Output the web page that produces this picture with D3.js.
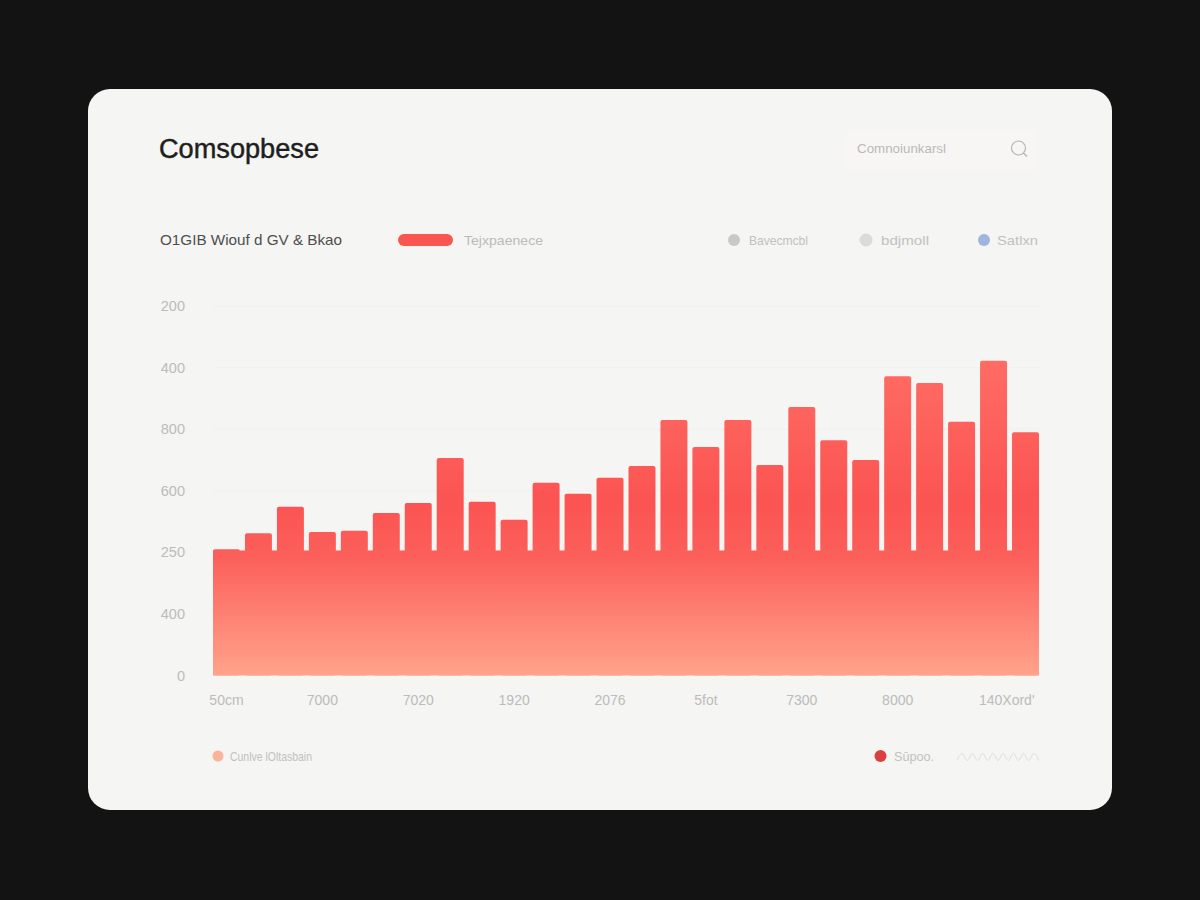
<!DOCTYPE html>
<html><head><meta charset="utf-8">
<script src="https://cdn.jsdelivr.net/npm/d3@7/dist/d3.min.js"></script>
<style>
html,body{margin:0;padding:0;background:#131313;overflow:hidden}
svg{display:block}
text{font-family:"Liberation Sans",Arial,sans-serif}
</style></head><body>
<svg id="c" width="1200" height="900"></svg>
<script>
const categories = ["b01","b02","b03","b04","b05","b06","b07","b08","b09","b10","b11","b12","b13","b14","b15","b16","b17","b18","b19","b20","b21","b22","b23","b24","b25","b26"];
const barValues = [205,231,274,233,235,264,280,353,282,253,313,295,321,340,415,371,415,342,436,382,350,486,475,412,511,395];
const baseValue = 203;
const yTickValues = [0,100,200,300,400,500,600];
const yTickLabels = ["0","400","250","600","800","400","200"];
const gridValues = [300,400,500,600];
const xTickCategories = ["b01","b04","b07","b10","b13","b16","b19","b22","b25"];
const xTickLabels = ["50cm","7000","7020","1920","2076","5fot","7300","8000","140Xord'"];
const wave = [0,1,0,1,0,1,0,1,0,1,0,1,0,1,0,1,0];

const svg = d3.select("#c");
const defs = svg.append("defs");
const grad = defs.append("linearGradient").attr("id","barGrad")
  .attr("gradientUnits","userSpaceOnUse").attr("x1",0).attr("x2",0).attr("y1",361).attr("y2",676);
[[0,"#ff6c64"],[0.45,"#fb5452"],[0.62,"#fc5f5a"],[0.8,"#fe8072"],[1,"#ffa38a"]]
  .forEach(s=>grad.append("stop").attr("offset",s[0]).attr("stop-color",s[1]));

svg.append("rect").attr("x",88).attr("y",89).attr("width",1024).attr("height",721).attr("rx",22).attr("fill","#f5f5f3");

// header
svg.append("text").attr("x",159).attr("y",158).attr("font-size",27).attr("fill","#1e1e1e").attr("stroke","#1e1e1e").attr("stroke-width",0.45).attr("textLength",160).attr("lengthAdjust","spacingAndGlyphs").text("Comsopbese");
svg.append("rect").attr("x",843).attr("y",130).attr("width",195).attr("height",40).attr("rx",8).attr("fill","#f7f6f5");
svg.append("text").attr("x",857).attr("y",153).attr("font-size",13).attr("fill","#bab9b7").attr("textLength",89).attr("lengthAdjust","spacingAndGlyphs").text("Comnoiunkarsl");
svg.append("circle").attr("cx",1018.5).attr("cy",148).attr("r",7).attr("fill","none").attr("stroke","#b4b4b2").attr("stroke-width",1.2);
svg.append("line").attr("x1",1023.5).attr("y1",153).attr("x2",1027).attr("y2",156.5).attr("stroke","#b4b4b2").attr("stroke-width",1.2);

// legends
function label(x,y,w,t,c,s){svg.append("text").attr("x",x).attr("y",y).attr("font-size",s||13).attr("fill",c).attr("textLength",w).attr("lengthAdjust","spacingAndGlyphs").text(t);}
label(160,245,182,"O1GIB Wiouf d GV & Bkao","#4f4f4f",14.5);
svg.append("rect").attr("x",398).attr("y",234).attr("width",55).attr("height",12).attr("rx",6).attr("fill","#fa5650");
label(464,245,79,"Tejxpaenece","#bcbbb9");
svg.append("circle").attr("cx",734).attr("cy",240).attr("r",6).attr("fill","#c9c9c7");
label(749,245,59,"Bavecmcbl","#c2c1bf");
svg.append("circle").attr("cx",866).attr("cy",240).attr("r",6.5).attr("fill","#dcdbd9");
label(881,245,48,"bdjmoll","#c2c1bf");
svg.append("circle").attr("cx",984).attr("cy",240).attr("r",6).attr("fill","#9fb6dc");
label(997,245,41,"Satlxn","#c2c1bf");
svg.append("circle").attr("cx",218).attr("cy",756).attr("r",5.5).attr("fill","#fbb399");
label(230,761,82,"Cunlve lOltasbain","#c2c1bf");
svg.append("circle").attr("cx",880.5).attr("cy",756).attr("r",6).attr("fill","#dc3f3f");
label(894,761,40,"Sūpoo.","#c2c1bf");

// scales
const x = d3.scaleBand().domain(categories).range([213,1039]).paddingInner(5/32);
const y = d3.scaleLinear().domain([0,600]).range([675.5,306]);

// grid
svg.append("g").selectAll("line").data(gridValues).join("line")
  .attr("x1",213).attr("x2",1039).attr("y1",d=>y(d)).attr("y2",d=>y(d))
  .attr("stroke","#f1f0ee").attr("stroke-width",1);

// axes
const yAxis = svg.append("g").attr("transform","translate(185,0)")
  .call(d3.axisLeft(y).tickValues(yTickValues).tickSize(0).tickPadding(0).tickFormat((d,i)=>yTickLabels[i]));
yAxis.select(".domain").remove();
yAxis.selectAll("text").attr("font-size",14.5).attr("fill","#bcbcba").style("font-family","'Liberation Sans',Arial,sans-serif");

const xAxis = svg.append("g").attr("transform","translate(0,695)")
  .call(d3.axisBottom(x).tickValues(xTickCategories).tickSize(0).tickPadding(0).tickFormat((d,i)=>xTickLabels[i]));
xAxis.select(".domain").remove();
xAxis.selectAll("text").attr("font-size",14).attr("fill","#bcbcba").attr("dy","0.71em").style("font-family","'Liberation Sans',Arial,sans-serif");
xAxis.selectAll("text").filter((d,i)=>i===xTickLabels.length-1).attr("text-anchor","end").attr("dx",41);

// bars
svg.append("g").selectAll("rect").data(barValues).join("rect")
  .attr("x",(d,i)=>x(categories[i])).attr("width",x.bandwidth())
  .attr("y",d=>y(d)).attr("height",d=>y(0)-y(d)).attr("rx",2).attr("fill","url(#barGrad)");
svg.append("rect").attr("x",x.range()[0]).attr("width",x.range()[1]-x.range()[0])
  .attr("y",y(baseValue)).attr("height",y(0)-y(baseValue)).attr("fill","url(#barGrad)");

// wave decoration
const wx = d3.scaleLinear().domain([0,wave.length-1]).range([957,1039]);
const wy = d3.scaleLinear().domain([0,1]).range([760.5,753.5]);
svg.append("path").attr("d",d3.line().x((d,i)=>wx(i)).y(d=>wy(d)).curve(d3.curveMonotoneX)(wave))
  .attr("fill","none").attr("stroke","#dfdedc").attr("stroke-width",1);
</script></body></html>
